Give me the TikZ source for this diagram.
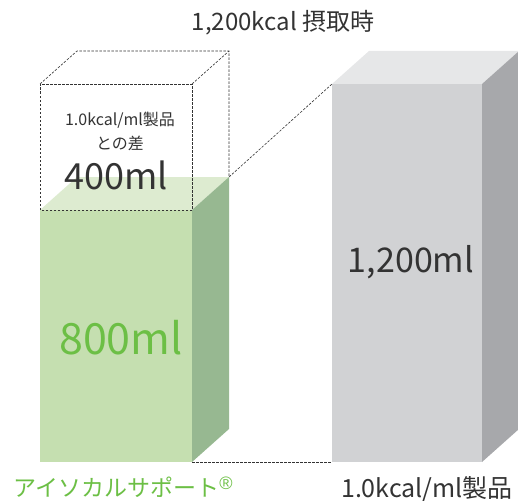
\documentclass[tikz,border=0pt]{standalone}
\usepackage{fontspec}
\setmainfont{Noto Sans CJK JP}
\newfontfamily\regmark{Liberation Sans}
\usepackage{tikz}
\usetikzlibrary{positioning}

\definecolor{g_front}{HTML}{C5DFB0}
\definecolor{g_top}{HTML}{DDEBD0}
\definecolor{g_side}{HTML}{97B891}
\definecolor{k_front}{HTML}{D1D2D4}
\definecolor{k_top}{HTML}{E6E7E8}
\definecolor{k_side}{HTML}{A7A8AB}
\definecolor{g_text}{HTML}{6CBF45}
\definecolor{k_text}{HTML}{333333}

\begin{document}
\begin{tikzpicture}[x=1pt, y=-1pt]
        % Define styles for the faces, the dashed edges and the labels
        \tikzset{
            dash_edge/.style={draw=k_text, line width=0.6pt, dash pattern=on 2.5pt off 1.5pt},
            lbl/.style={inner sep=0pt, text=k_text, font=\fontsize{#1}{#1}\selectfont},
            lbl_green/.style={inner sep=0pt, text=g_text, font=\fontsize{#1}{#1}\selectfont}
        }
        \useasboundingbox (0,0) rectangle (518,500);

        % Green box: 800ml
        \begin{scope}[shift={(40,210)}]
            \fill[g_front] (0,0) rectangle (152,252);
            \fill[g_top] (0,0) -- (37,-33) -- (189,-33) -- (152,0) -- cycle;
            \fill[g_side] (152,0) -- (189,-33) -- (189,219) -- (152,252) -- cycle;
            \coordinate (g_back) at (189,-33);
            \coordinate (g_foot) at (152,252);
        \end{scope}

        % Dashed box on top: the 400ml difference
        \begin{scope}[shift={(40,84)}]
            \draw[dash_edge] (0,126) -- (0,0) -- (152,0) -- (152,126) -- cycle;
            \draw[dash_edge] (0,0) -- (37,-33) -- (189,-33) -- (189,93);
            \draw[dash_edge] (152,0) -- (189,-33);
        \end{scope}

        % Grey box: 1,200ml
        \begin{scope}[shift={(332,84)}]
            \fill[k_front] (0,0) rectangle (150,378);
            \fill[k_top] (0,0) -- (37,-33) -- (187,-33) -- (150,0) -- cycle;
            \fill[k_side] (150,0) -- (187,-33) -- (187,345) -- (150,378) -- cycle;
            \coordinate (k_top_left) at (0,0);
            \coordinate (k_foot) at (0,378);
        \end{scope}

        % Dashed guides between the two boxes
        \draw[dash_edge] (g_back) -- (k_top_left);
        \draw[dash_edge] (g_foot) -- (k_foot);

        % Labels
        \node[lbl=24] (title) at (283,23) {1,200kcal 摂取時};
        \node[lbl=16] (diff_a) at (120,120) {1.0kcal/ml製品};
        \node[lbl=16, below=7pt of diff_a] (diff_b) {との差};
        \node[lbl=36] (diff_val) at (116,175) {400ml};
        \node[lbl_green=43] (g_val) at (121,338) {800ml};
        \node[lbl=34] (k_val) at (411,262) {1,200ml};
        \node[lbl_green=23] (g_name) at (123,487) {アイソカルサポート\raisebox{0.3em}{\regmark\fontsize{18}{18}\selectfont ®}};
        \node[lbl=25] (k_name) at (427,489) {1.0kcal/ml製品};
\end{tikzpicture}
\end{document}
